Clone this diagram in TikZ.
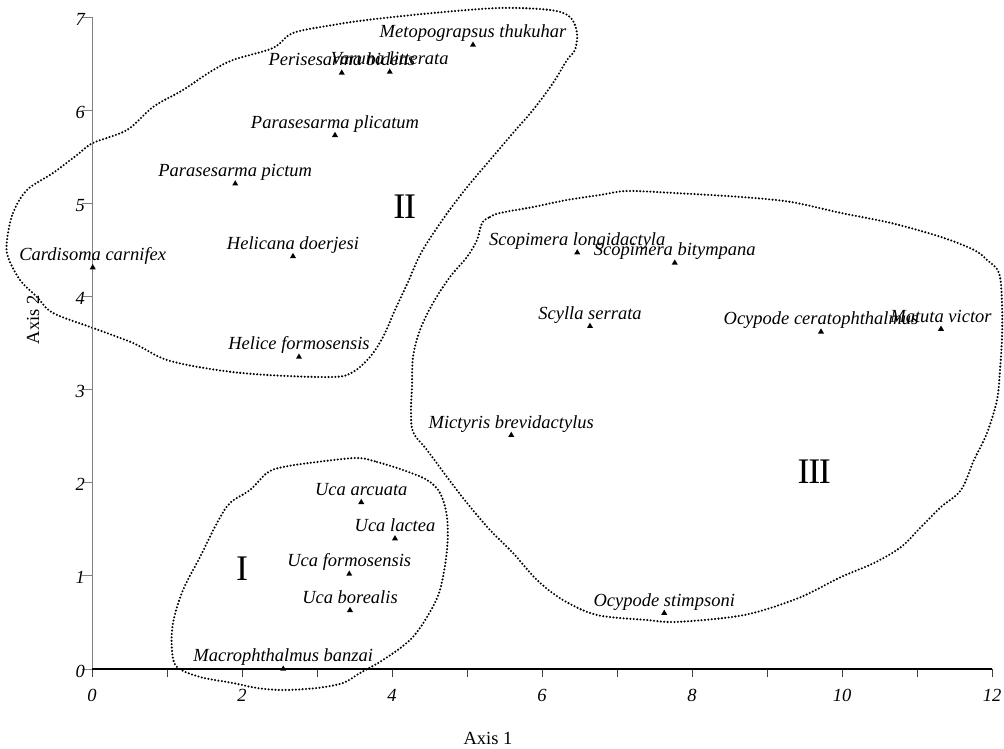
\documentclass[tikz,border=0pt]{standalone}
\usepackage{fontspec}
\setmainfont{Liberation Serif}
\usetikzlibrary{shapes.geometric}

\begin{document}
\begin{tikzpicture}[x=75pt,y=93.14pt,
	tri/.style={regular polygon,regular polygon sides=3,fill=black,inner sep=0pt,minimum size=7pt},
	spec/.style={anchor=base,inner sep=0pt,font=\fontsize{18.5}{20}\selectfont\itshape},
	num/.style={inner sep=0pt,font=\fontsize{18.5}{20}\selectfont\itshape},
	axlab/.style={inner sep=0pt,font=\fontsize{18.5}{20}\selectfont},
	grp/.style={inner sep=0pt,font=\fontsize{36}{40}\selectfont},
	hull/.style={line width=2.3pt,dash pattern=on 0pt off 3.4pt,line cap=round}]
	
	% the three groups, traced in pixel units
	\begin{scope}[x=1pt,y=-1pt,shift={(-92pt,669pt)}]
		\useasboundingbox (0,0) rectangle (1004,749);
		% II
		\draw[hull] plot[smooth cycle,tension=0.55] coordinates {
			(7,240) (13,213) (27,190) (53,173) (77,155) (93,143) (127,130) (153,107)
			(183,90) (210,72) (233,60) (273,48) (293,33) (333,25) (367,20) (433,13)
			(500,8) (550,10) (570,17) (577,33) (575,50) (567,60) (553,83) (533,110)
			(513,133) (490,160) (473,180) (457,200) (441,222) (421,253) (408,282)
			(395,310) (383,337) (370,357) (353,372) (333,377) (267,375) (217,370)
			(167,360) (133,343) (93,328) (53,313) (37,297) (20,280) (8,257)};
		% III
		\draw[hull] plot[smooth cycle,tension=0.55] coordinates {
			(482,223) (490,217) (500,213) (533,207) (567,200) (600,195) (627,191)
			(674,193) (741,197) (791,202) (841,213) (891,223) (941,237) (974,250)
			(987,260) (999,273) (1002,303) (1002,337) (1000,370) (997,400) (987,433)
			(974,460) (961,490) (941,507) (921,527) (901,547) (874,563) (841,577)
			(801,597) (757,612) (724,618) (674,622) (647,620) (597,615) (563,600)
			(537,580) (513,553) (490,530) (467,503) (447,477) (427,450) (413,432)
			(411,410) (412,387) (413,357) (420,330) (433,303) (450,277) (467,257)
			(477,240)};
		% I
		\draw[hull] plot[smooth cycle,tension=0.55] coordinates {
			(357,458) (377,462) (403,470) (427,480) (440,493) (447,517) (447,550)
			(440,590) (427,617) (410,640) (383,660) (360,673) (343,683) (317,688)
			(283,690) (257,688) (233,683) (200,677) (177,667) (172,650) (173,623)
			(183,590) (200,557) (217,523) (230,503) (250,490) (267,473) (283,467)
			(317,462)};
	\end{scope}
	
	% axes
	\draw[gray,line width=0.8pt] (0,0) -- (0,7);
	\foreach \k in {0,...,7}
	{
		\draw[gray,line width=0.8pt] (0,\k) -- ++(-10pt,0);
		\node[num,anchor=east] (ty\k) at ([xshift=-7pt,yshift=-2pt]0,\k) {\k};
	}
	\foreach \k in {0,...,12}
		\draw[darkgray,line width=0.8pt] (\k,0) -- ++(0,-8pt);
	\foreach \k in {0,2,...,12}
		\node[num] (tx\k) at ([yshift=-26pt]\k,0) {\k};
	\draw[line width=2pt] (0,0) -- (12,0);
	\node[axlab] (ax1) at ([yshift=-69pt]5.28,0) {Axis 1};
	\node[axlab,rotate=90] (ax2) at ([xshift=-59pt]0,3.75) {Axis 2};
	
	\node[grp] (g1) at (2.0,1.08) {I};
	\node[grp] (g2) at (4.17,4.96) {I\kern-1.3pt I};
	\node[grp] (g3) at (9.63,2.12) {I\kern-1.3pt I\kern-1.3pt I};
	
	% species
	\foreach \x/\y/\nm/\lab in {
		5.08/6.70/mt/Metopograpsus thukuhar,
		3.33/6.40/pb/Perisesarma bidens,
		3.97/6.41/vl/Varuna litterata,
		3.24/5.73/ppl/Parasesarma plicatum,
		1.91/5.21/ppi/Parasesarma pictum,
		2.68/4.43/hd/Helicana doerjesi,
		0.01/4.31/cc/Cardisoma carnifex,
		2.76/3.35/hf/Helice formosensis,
		6.47/4.47/sl/Scopimera longidactyla,
		7.77/4.36/sb/Scopimera bitympana,
		6.64/3.68/ss/Scylla serrata,
		9.72/3.62/oc/Ocypode ceratophthalmus,
		11.32/3.65/mv/Matuta victor,
		5.59/2.51/mb/Mictyris brevidactylus,
		7.63/0.60/os/Ocypode stimpsoni,
		3.59/1.79/ua/Uca arcuata,
		4.04/1.40/ul/Uca lactea,
		3.43/1.02/uf/Uca formosensis,
		3.44/0.63/ub/Uca borealis,
		2.55/0.00/mz/Macrophthalmus banzai}
	{
		\node[tri] (\nm) at (\x,\y) {};
		\node[spec] (\nm-t) at ([yshift=7pt]\nm.center) {\lab};
	}
	
\end{tikzpicture}
\end{document}
